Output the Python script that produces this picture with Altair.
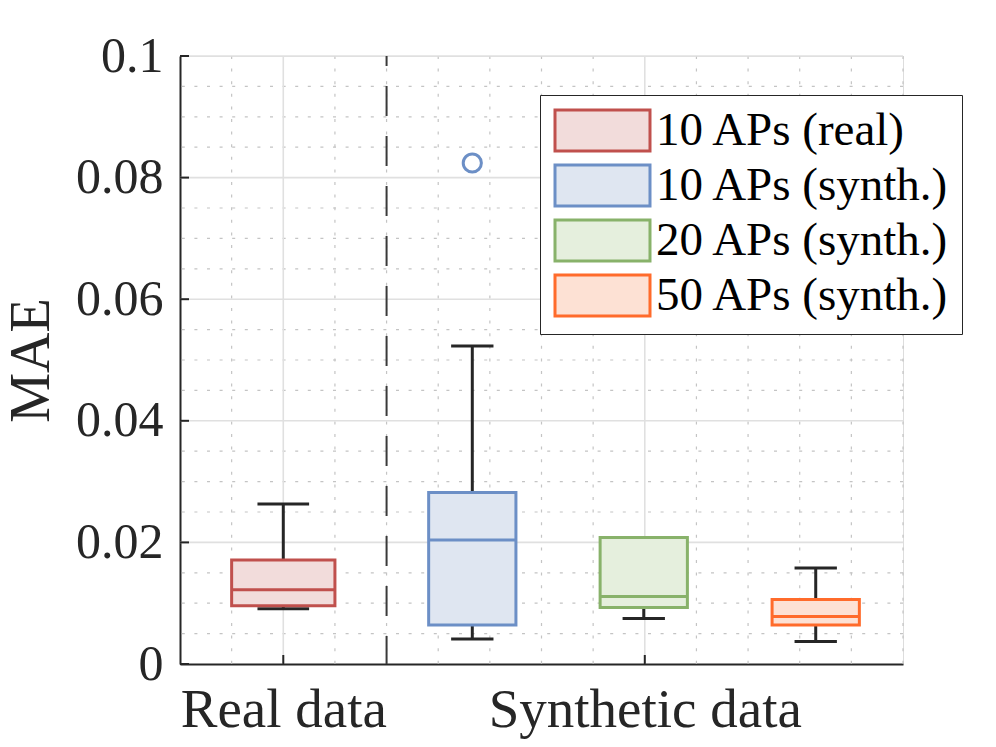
import altair as alt
import pandas as pd

# ---- data ----
series = ["10 APs (real)", "10 APs (synth.)", "20 APs (synth.)", "50 APs (synth.)"]
positions = [2.0, 5.66, 8.98, 12.31]
box_widths = [2.0, 1.69, 1.69, 1.69]
cap_widths = [1.0, 0.82, 0.82, 0.82]
lower_whisker = [0.0091, 0.0041, 0.0075, 0.0037]
q1 = [0.0096, 0.0064, 0.0093, 0.0064]
median = [0.0122, 0.0204, 0.0111, 0.0078]
q3 = [0.0171, 0.0282, 0.0208, 0.0106]
upper_whisker = [0.0263, 0.0523, 0.0208, 0.0158]
outlier_series = ["10 APs (synth.)"]
outlier_pos = [5.66]
outlier_values = [0.0824]

edge_colors = ["#C0504D", "#6C8FC6", "#88B26A", "#FF6B2B"]
fill_colors = ["#F2DCDB", "#DFE6F1", "#E5EFDD", "#FDE1D4"]

group_labels = ["Real data", "Synthetic data"]
group_positions = [2, 9]
separator_position = [4]
y_ticks = [0, 0.02, 0.04, 0.06, 0.08, 0.1]
y_minor = [0.005, 0.01, 0.015, 0.025, 0.03, 0.035, 0.045, 0.05, 0.055,
           0.065, 0.07, 0.075, 0.085, 0.09, 0.095]
x_minor = [1, 3, 4, 5, 6, 7, 8, 10, 11, 12, 13, 14]

FONT = "Liberation Serif"
INK = "#262626"

df = pd.DataFrame({
    "series": series, "pos": positions, "lower": lower_whisker, "q1": q1,
    "median": median, "q3": q3, "upper": upper_whisker,
})
df["box_l"] = [p - w / 2 for p, w in zip(positions, box_widths)]
df["box_r"] = [p + w / 2 for p, w in zip(positions, box_widths)]
df["cap_l"] = [p - w / 2 for p, w in zip(positions, cap_widths)]
df["cap_r"] = [p + w / 2 for p, w in zip(positions, cap_widths)]

out_df = pd.DataFrame({"series": outlier_series, "pos": outlier_pos, "value": outlier_values})

xscale = alt.Scale(domain=[0, 14], nice=False, zero=False)
yscale = alt.Scale(domain=[0, 0.1], nice=False, zero=False)

label_expr = " : ".join(
    [f"datum.value == {p} ? '{l}'" for p, l in zip(group_positions, group_labels)]
) + " : ''"

x_axis = alt.Axis(values=group_positions, labelExpr=label_expr, ticks=False, grid=False,
                  domainColor=INK, domainWidth=2, labelFont=FONT, labelFontSize=55,
                  labelColor=INK, labelPadding=19, labelFlush=False, labelOverlap=False,
                  labelLimit=0, title=None)
y_axis = alt.Axis(values=y_ticks, format=".2~f", ticks=False, grid=False,
                  domainColor=INK, domainWidth=2, labelFont=FONT, labelFontSize=50,
                  labelColor=INK, labelPadding=17, labelFlush=False, labelOverlap=False,
                  labelLimit=0,
                  title="MAE", titleFont=FONT, titleFontSize=56, titleFontWeight="normal",
                  titleColor=INK, titleAngle=270, titleBaseline="alphabetic",
                  titleX=-132, titleY=304)

def X(field):
    return alt.X(field, type="quantitative", scale=xscale, axis=x_axis)

def Y(field):
    return alt.Y(field, type="quantitative", scale=yscale, axis=y_axis)

# grids
minor_h = alt.Chart(pd.DataFrame({"v": y_minor})).mark_rule(
    color="#C4C4C4", strokeWidth=1.2, strokeDash=[3, 9.6]).encode(y=Y("v"))
minor_v = alt.Chart(pd.DataFrame({"v": x_minor})).mark_rule(
    color="#C4C4C4", strokeWidth=1.2, strokeDash=[3, 9.6]).encode(x=X("v"))
major_h = alt.Chart(pd.DataFrame({"v": y_ticks[1:]})).mark_rule(
    color="#E0E0E0", strokeWidth=1.6).encode(y=Y("v"))
major_v = alt.Chart(pd.DataFrame({"v": group_positions})).mark_rule(
    color="#E0E0E0", strokeWidth=1.6).encode(x=X("v"))

# inward ticks
y_tickmarks = alt.Chart(pd.DataFrame({"v": y_ticks})).mark_rule(
    color=INK, strokeWidth=2).encode(y=Y("v"), x=alt.value(0), x2=alt.value(9))
x_tickmarks = alt.Chart(pd.DataFrame({"v": group_positions})).mark_rule(
    color=INK, strokeWidth=2).encode(x=X("v"), y=alt.value(608), y2=alt.value(599))

# separator
sep = alt.Chart(pd.DataFrame({"v": separator_position, "top": [0.1], "bot": [0.0]})).mark_rule(
    color="#3A3A3A", strokeWidth=2, strokeDash=[30, 20], strokeDashOffset=20
).encode(x=X("v"), y=Y("top"), y2="bot")

base = alt.Chart(df)
wh_up = base.mark_rule(color=INK, strokeWidth=3).encode(x=X("pos"), y=Y("q3"), y2="upper")
wh_lo = base.mark_rule(color=INK, strokeWidth=3).encode(x=X("pos"), y=Y("lower"), y2="q1")
cap_up = base.mark_rule(color=INK, strokeWidth=3).encode(x=X("cap_l"), x2="cap_r", y=Y("upper"))
cap_lo = base.mark_rule(color=INK, strokeWidth=3).encode(x=X("cap_l"), x2="cap_r", y=Y("lower"))

legend = alt.Legend(
    orient="none", legendX=360, legendY=39, title=None,
    symbolType="M-1,-1L3.634,-1L3.634,1L-1,1Z", symbolSize=1681, symbolStrokeWidth=3,
    symbolOpacity=1, labelFont=FONT, labelFontSize=47, labelColor="black",
    labelOffset=57, labelLimit=0, padding=12, rowPadding=2,
    strokeColor=INK, fillColor="white", cornerRadius=0, labelBaseline="middle",
)
fill_scale = alt.Scale(domain=series, range=fill_colors)
stroke_scale = alt.Scale(domain=series, range=edge_colors)

boxes = base.mark_rect(strokeWidth=3, opacity=1).encode(
    x=X("box_l"), x2="box_r", y=Y("q1"), y2="q3",
    fill=alt.Fill("series:N", scale=fill_scale, legend=legend, sort=series),
    stroke=alt.Stroke("series:N", scale=stroke_scale, legend=legend, sort=series),
)
medians = base.mark_rule(strokeWidth=3).encode(
    x=X("box_l"), x2="box_r", y=Y("median"),
    stroke=alt.Stroke("series:N", scale=stroke_scale, legend=None),
)
outliers = alt.Chart(out_df).mark_point(shape="circle", filled=False, size=330, strokeWidth=3,
                                        opacity=1).encode(
    x=X("pos"), y=Y("value"),
    stroke=alt.Stroke("series:N", scale=stroke_scale, legend=None),
)

chart = alt.layer(
    minor_h, minor_v, major_h, major_v, sep, y_tickmarks, x_tickmarks,
    wh_up, wh_lo, cap_up, cap_lo, boxes, medians, outliers
).properties(
    width=723, height=608,
    autosize=alt.AutoSizeParams(type="none"),
    padding={"left": 172, "top": 48, "right": 85, "bottom": 75},
).configure_view(stroke=None).configure(background="white")

chart.save("out.html", embed_options={"renderer": "svg", "actions": False})
